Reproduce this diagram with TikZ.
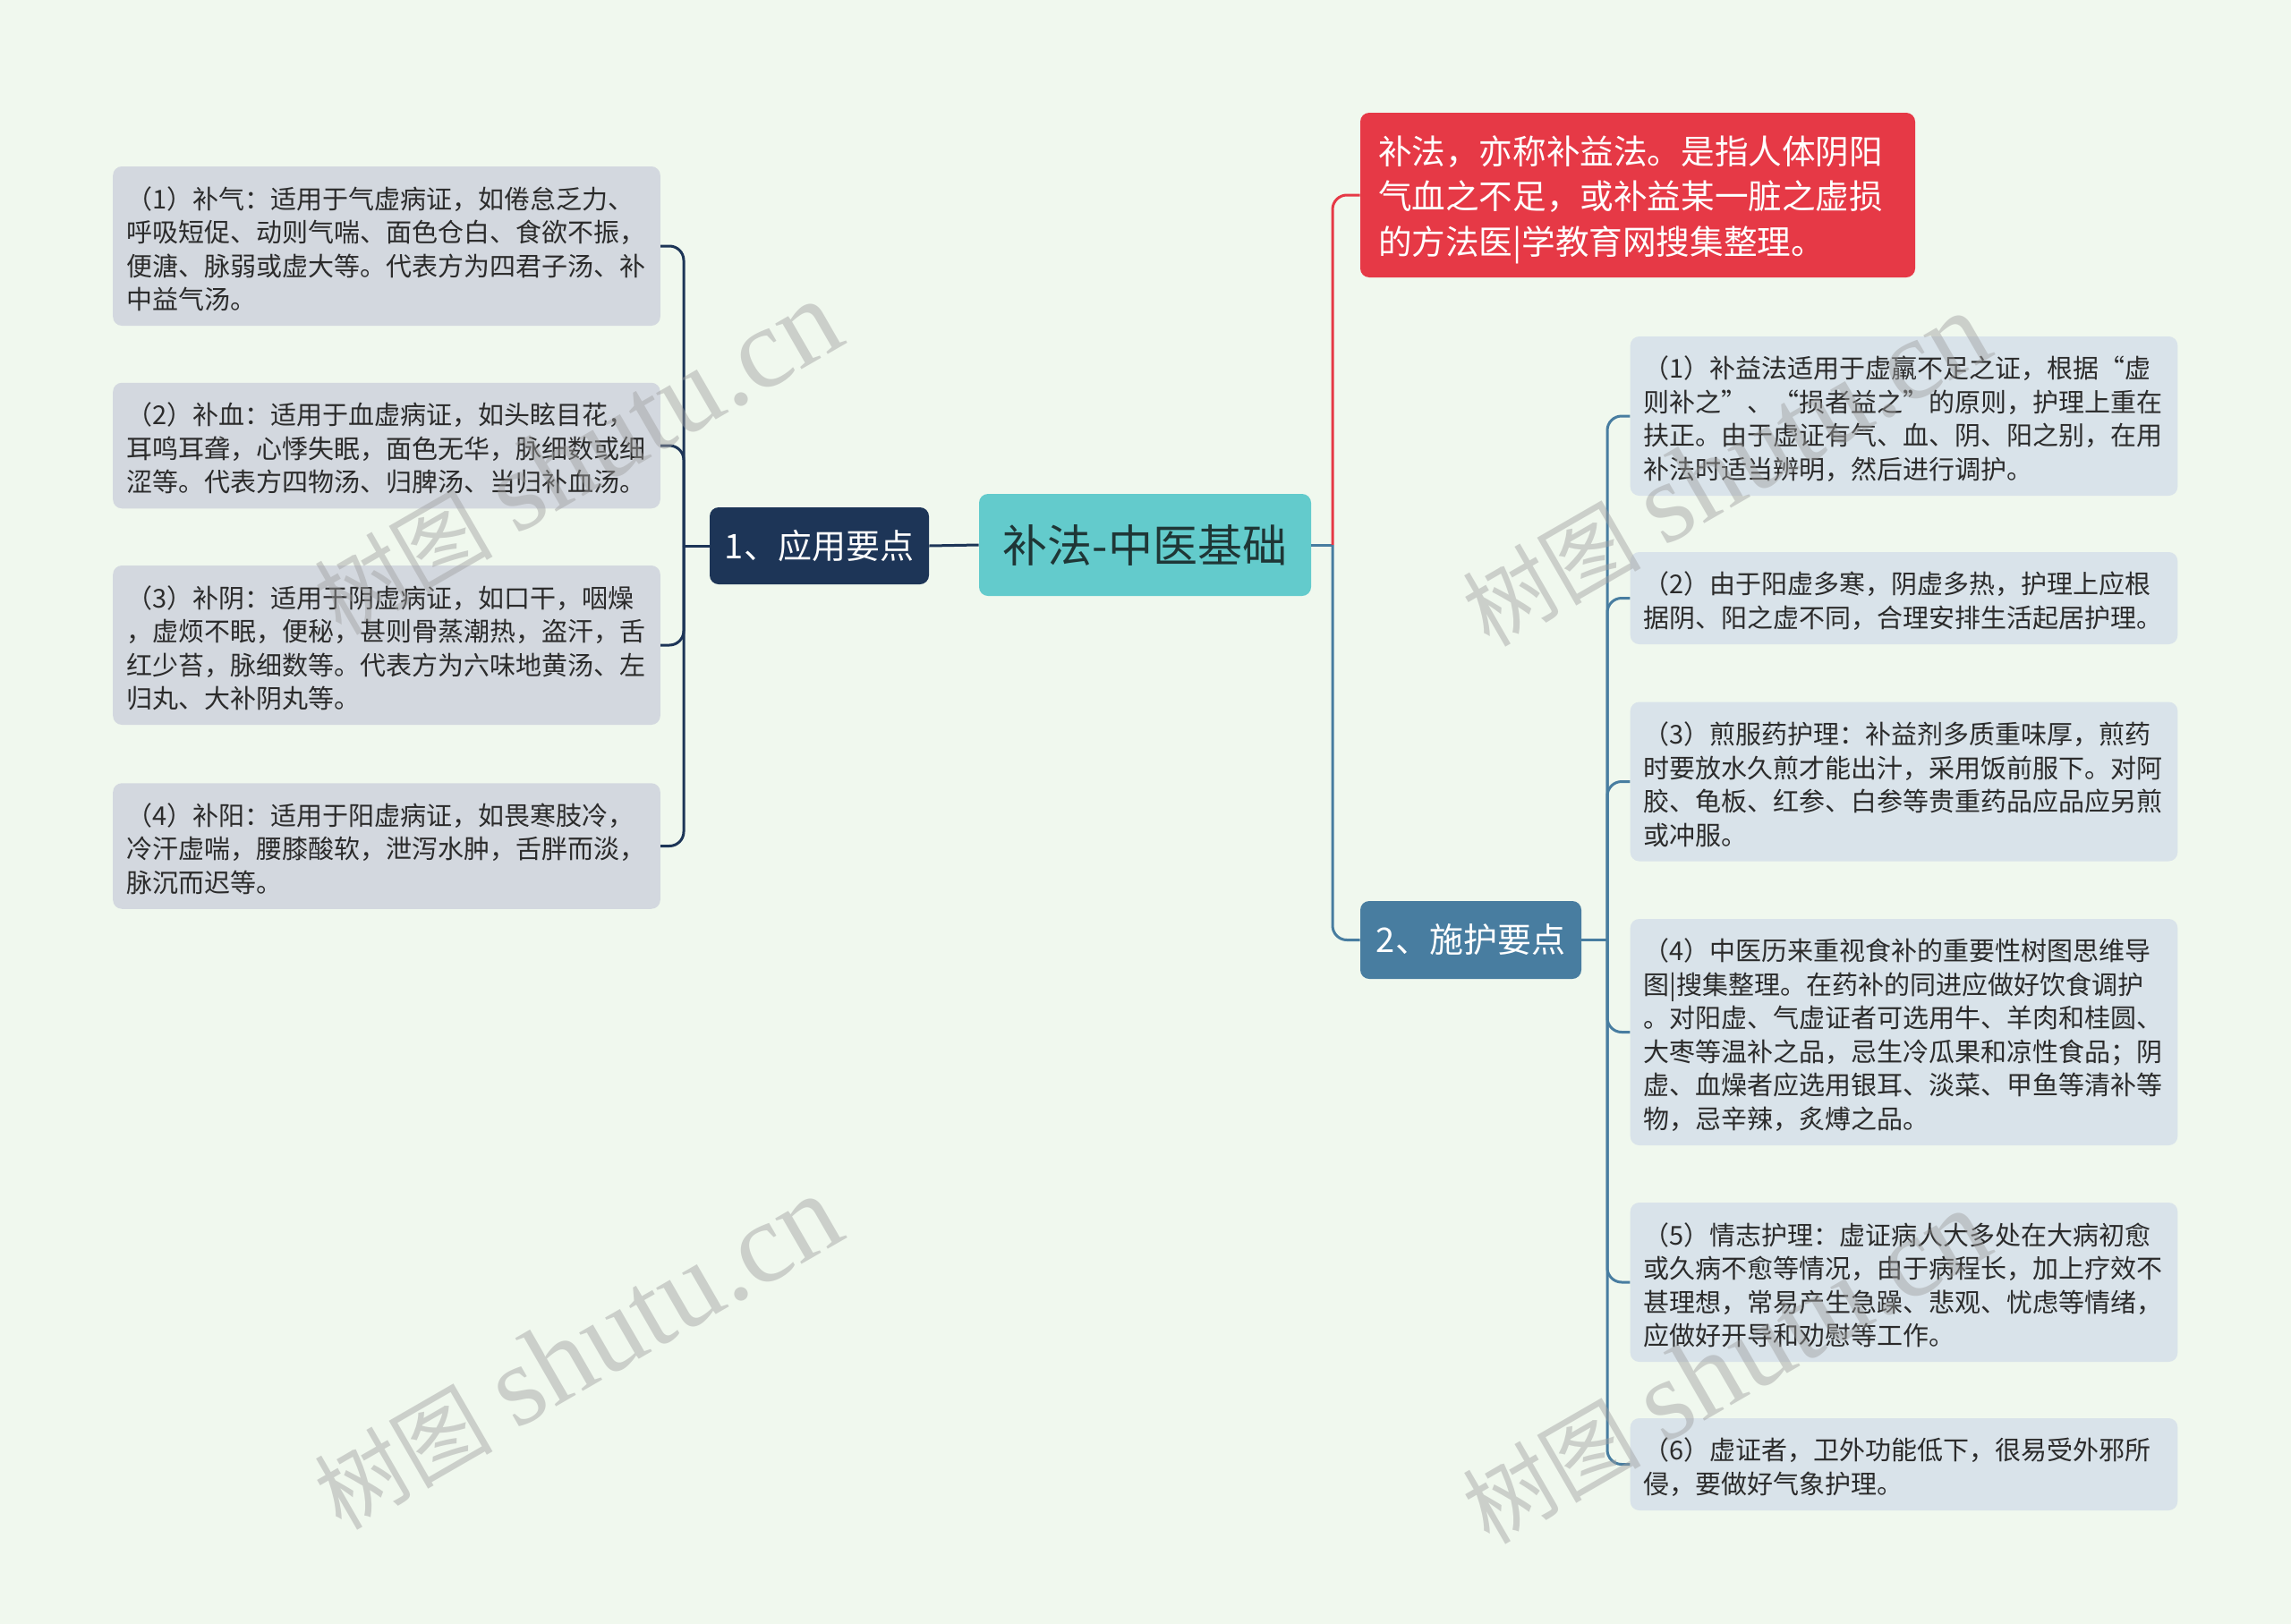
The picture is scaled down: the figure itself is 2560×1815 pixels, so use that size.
\documentclass[tikz,border=0pt]{standalone}
\usepackage{fontspec}
\setmainfont{Noto Sans CJK SC}
\newfontfamily\wmserif{Liberation Serif}
\definecolor{bgc}{HTML}{F0F8EE}
\definecolor{leafl}{HTML}{D3D8DF}
\definecolor{leafr}{HTML}{D9E3EA}
\definecolor{centc}{HTML}{63CBCC}
\definecolor{navy}{HTML}{1D3557}
\definecolor{steel}{HTML}{487DA0}
\definecolor{redc}{HTML}{E63946}
\definecolor{txtd}{HTML}{2B2B2B}
\definecolor{centt}{HTML}{1F3636}
\newcommand{\lstrut}{\rule{0pt}{15.6pt}}
\newcommand{\rstrut}{\rule{0pt}{21pt}}
\newcommand{\wmtext}{{\fontsize{50}{50}\selectfont 树图}\hspace{13pt}{\wmserif\fontsize{64}{64}\selectfont shutu.cn}}
\begin{document}
\begin{tikzpicture}[x=0.5pt,y=-0.5pt,
  leafbox/.style={rounded corners=5pt, text width=291pt, align=left, inner xsep=7.4pt, inner ysep=0pt,
     font=\fontsize{14.5}{18.75}\selectfont, text=txtd, minimum height=#1, anchor=center},
  leftleaf/.style={leafbox=#1, fill=leafl},
  rightleaf/.style={leafbox=#1, fill=leafr},
  topicbox/.style={rounded corners=5pt, inner sep=0pt, text=white, font=\fontsize{19}{22}\selectfont,
     minimum width=123pt, minimum height=43pt},
  lconn/.style={draw=navy, line width=1.5pt, rounded corners=8pt},
  bconn/.style={draw=steel, line width=1.5pt, rounded corners=8pt},
  rconn/.style={draw=redc, line width=1.5pt, rounded corners=8pt},
  wm/.style={text=gray!75, opacity=0.45, rotate=30, inner sep=0pt}
]
\fill[bgc] (0,0) rectangle (2560,1815);
\useasboundingbox (0,0) rectangle (2560,1815);

% main nodes
\node[fill=centc, rounded corners=5pt, inner sep=0pt, minimum width=185.5pt, minimum height=57pt,
      font=\fontsize{25}{30}\selectfont, text=centt] (c) at (1279.5,609) {补法-中医基础};
\node[topicbox, fill=navy, minimum width=122.5pt] (n1) at (915.5,610) {1、应用要点};
\node[topicbox, fill=steel, minimum width=123.5pt, minimum height=43.5pt] (n2) at (1643.5,1050.5) {2、施护要点};
\node[fill=redc, rounded corners=5pt, text width=290pt, inner xsep=10pt, inner ysep=0pt, minimum height=92pt,
      align=left, text=white, font=\fontsize{18.8}{25.3}\selectfont] (red) at (1830,218)
  {\rstrut 补法，亦称补益法。是指人体阴阳\\气血之不足，或补益某一脏之虚损\\的方法医|学教育网搜集整理。};

% left leaves
\node[leftleaf=89pt] (L1) at (432,275) {\lstrut（1）补气：适用于气虚病证，如倦怠乏力、\\呼吸短促、动则气喘、面色仓白、食欲不振，\\便溏、脉弱或虚大等。代表方为四君子汤、补\\中益气汤。};
\node[leftleaf=70.25pt] (L2) at (432,498) {\lstrut（2）补血：适用于血虚病证，如头眩目花，\\耳鸣耳聋，心悸失眠，面色无华，脉细数或细\\涩等。代表方四物汤、归脾汤、当归补血汤。};
\node[leftleaf=89pt] (L3) at (432,721) {\lstrut（3）补阴：适用于阴虚病证，如口干，咽燥\\，虚烦不眠，便秘，甚则骨蒸潮热，盗汗，舌\\红少苔，脉细数等。代表方为六味地黄汤、左\\归丸、大补阴丸等。};
\node[leftleaf=70.25pt] (L4) at (432,945.5) {\lstrut（4）补阳：适用于阳虚病证，如畏寒肢冷，\\冷汗虚喘，腰膝酸软，泄泻水肿，舌胖而淡，\\脉沉而迟等。};

% right leaves
\node[rightleaf=89pt] (R1) at (2127.5,465) {\lstrut（1）补益法适用于虚羸不足之证，根据“虚\\则补之”、“损者益之”的原则，护理上重在\\扶正。由于虚证有气、血、阴、阳之别，在用\\补法时适当辨明，然后进行调护。};
\node[rightleaf=51.5pt] (R2) at (2127.5,668.5) {\lstrut（2）由于阳虚多寒，阴虚多热，护理上应根\\据阴、阳之虚不同，合理安排生活起居护理。};
\node[rightleaf=89pt] (R3) at (2127.5,873.5) {\lstrut（3）煎服药护理：补益剂多质重味厚，煎药\\时要放水久煎才能出汁，采用饭前服下。对阿\\胶、龟板、红参、白参等贵重药品应品应另煎\\或冲服。};
\node[rightleaf=126.5pt] (R4) at (2127.5,1153.5) {\lstrut（4）中医历来重视食补的重要性树图思维导\\图|搜集整理。在药补的同进应做好饮食调护\\。对阳虚、气虚证者可选用牛、羊肉和桂圆、\\大枣等温补之品，忌生冷瓜果和凉性食品；阴\\虚、血燥者应选用银耳、淡菜、甲鱼等清补等\\物，忌辛辣，炙煿之品。};
\node[rightleaf=89pt] (R5) at (2127.5,1433) {\lstrut（5）情志护理：虚证病人大多处在大病初愈\\或久病不愈等情况，由于病程长，加上疗效不\\甚理想，常易产生急躁、悲观、忧虑等情绪，\\应做好开导和劝慰等工作。};
\node[rightleaf=51.5pt] (R6) at (2127.5,1636.5) {\lstrut（6）虚证者，卫外功能低下，很易受外邪所\\侵，要做好气象护理。};

% connectors: center
\coordinate (cj) at (1489,609);
\draw[bconn] (c.east) -- (cj);
\draw[rconn] (cj) |- (red.west);
\draw[bconn] (cj) |- (n2.west);
\draw[lconn] (c.west) -- (n1.east);

% connectors: left
\coordinate (lb) at (764,610);
\draw[lconn] (n1.west) -- (lb);
\foreach \l in {L1,L2,L3,L4} \draw[lconn] (lb) |- (\l.east);

% connectors: right
\coordinate (rb) at (1796,1050.5);
\draw[bconn] (n2.east) -- (rb);
\foreach \r in {R1,R2,R3,R4,R5,R6} \draw[bconn] (rb) |- (\r.west);

% watermarks
\node[wm] (w1) at (645,512) {\wmtext};
\node[wm] (w2) at (645,1512) {\wmtext};
\node[wm] (w3) at (1928,525) {\wmtext};
\node[wm] (w4) at (1928,1528) {\wmtext};
\end{tikzpicture}
\end{document}
